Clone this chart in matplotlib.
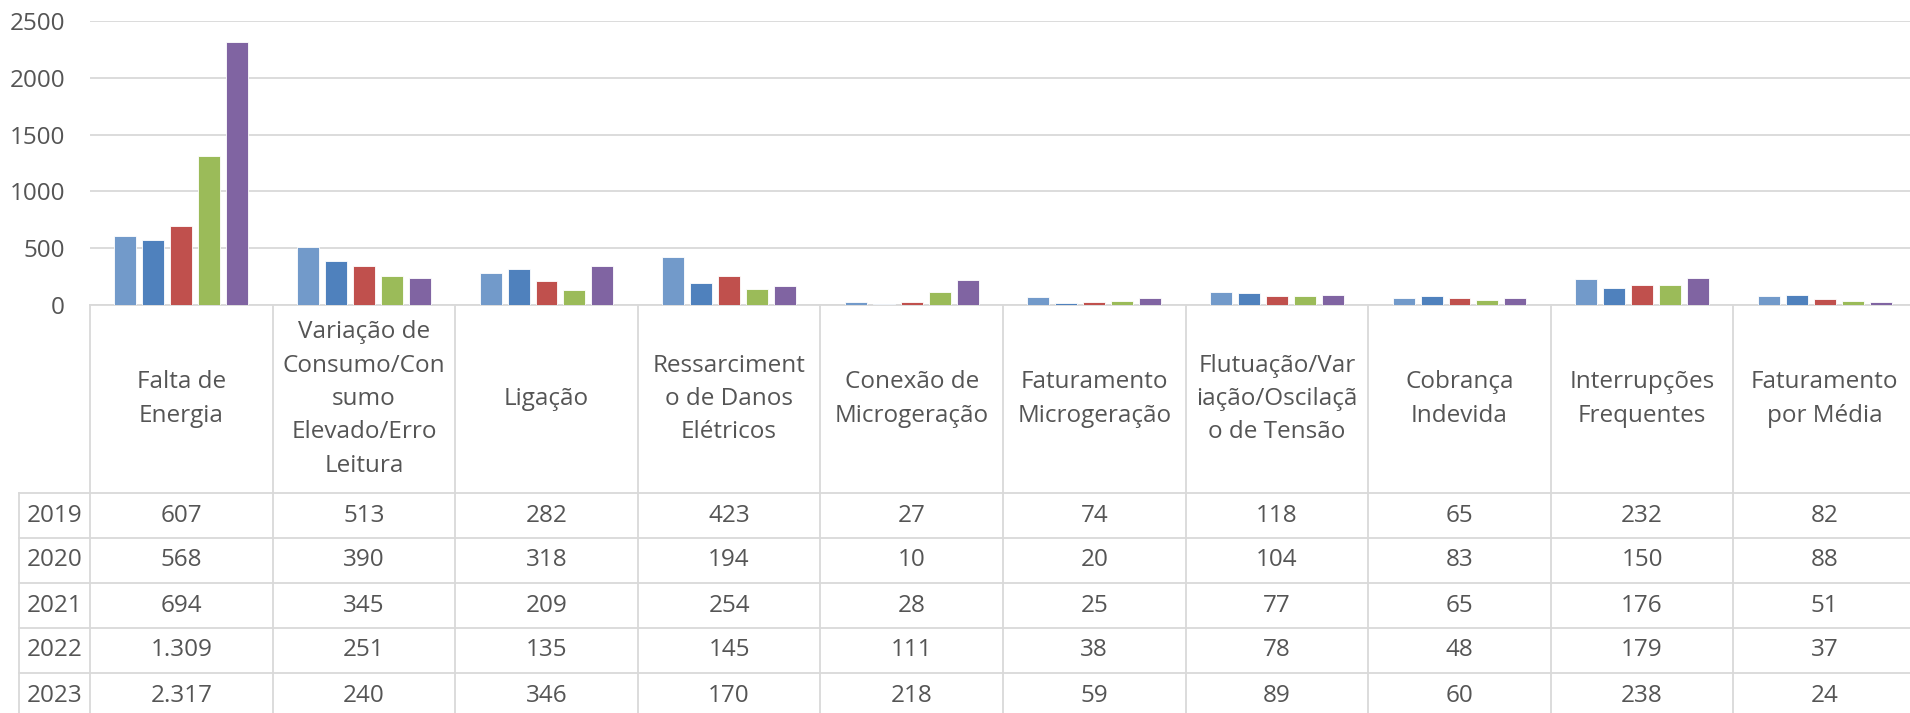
import matplotlib
matplotlib.use("Agg")
import matplotlib.pyplot as plt
import numpy as np

plt.rcParams['font.family'] = ['Open Sans', 'DejaVu Sans']

# data
categorias = [
    "Falta de\nEnergia",
    "Variação de\nConsumo/Con\nsumo\nElevado/Erro\nLeitura",
    "Ligação",
    "Ressarciment\no de Danos\nElétricos",
    "Conexão de\nMicrogeração",
    "Faturamento\nMicrogeração",
    "Flutuação/Var\niação/Oscilaçã\no de Tensão",
    "Cobrança\nIndevida",
    "Interrupções\nFrequentes",
    "Faturamento\npor Média",
]
anos = ["2019", "2020", "2021", "2022", "2023"]
v2019 = [607, 513, 282, 423, 27, 74, 118, 65, 232, 82]
v2020 = [568, 390, 318, 194, 10, 20, 104, 83, 150, 88]
v2021 = [694, 345, 209, 254, 28, 25, 77, 65, 176, 51]
v2022 = [1309, 251, 135, 145, 111, 38, 78, 48, 179, 37]
v2023 = [2317, 240, 346, 170, 218, 59, 89, 60, 238, 24]
series = [v2019, v2020, v2021, v2022, v2023]
cores = ["#729ACA", "#4F81BD", "#C0504D", "#9BBB59", "#8064A2"]
yticks = [0, 500, 1000, 1500, 2000, 2500]

W, H = 1910, 713
texto = "#555555"
linha = "#d9d9d9"
fs = 17.5

fig = plt.figure(figsize=(W / 100, H / 100), dpi=100)

# plot area in pixels: left 90, width ~1826 (cut at right), bottom at 305, height 284
left, right_px, base, top = 90, 1916, 305, 21
ax = fig.add_axes([left / W, (H - base) / H, (right_px - left) / W, (base - top) / H])
n = len(categorias)
x = np.arange(n) + 0.5
bw = 0.12
pitch = 0.153
for k, (vals, c) in enumerate(zip(series, cores)):
    ax.bar(x + (k - 2) * pitch, vals, width=bw, color=c, edgecolor="white",
           linewidth=0.6, zorder=3)

ax.set_xlim(0, n)
ax.set_ylim(0, 2500)
ax.set_yticks(yticks)
ax.set_yticklabels([str(t) for t in yticks], fontsize=fs, color=texto)
ax.tick_params(axis="y", length=0, pad=18)
ax.set_xticks([])
ax.grid(axis="y", color=linha, linewidth=1.3, zorder=0)
for s in ["top", "right", "left"]:
    ax.spines[s].set_visible(False)
ax.spines["bottom"].set_color(linha)
ax.spines["bottom"].set_linewidth(1.3)

# data table below, x in category units, y in pixels
tab = fig.add_axes([left / W, 0, (right_px - left) / W, 1])
tab.set_xlim(0, n)
tab.set_ylim(H, 0)
tab.axis("off")

header_bot = 493
row_h = 45
year_left = (19 - left) / ((right_px - left) / n)
lw = 1.3

for i in range(n + 1):
    tab.plot([i, i], [base, H + 10], color=linha, lw=lw, clip_on=False)
tab.plot([year_left, year_left], [header_bot, H + 10], color=linha, lw=lw, clip_on=False)
for r in range(len(anos)):
    yy = header_bot + r * row_h
    tab.plot([year_left, n], [yy, yy], color=linha, lw=lw, clip_on=False)

for i, cat in enumerate(categorias):
    tab.text(i + 0.5, (base + header_bot) / 2, cat, ha="center", va="center",
             fontsize=fs, color=texto, linespacing=1.52, clip_on=False)

for r, (ano, vals) in enumerate(zip(anos, series)):
    yc = header_bot + r * row_h + row_h / 2
    tab.text(year_left / 2, yc, ano, ha="center", va="center", fontsize=fs,
             color=texto, clip_on=False)
    for i, v in enumerate(vals):
        tab.text(i + 0.5, yc, f"{v:,}".replace(",", "."), ha="center",
                 va="center", fontsize=fs, color=texto, clip_on=False)

fig.savefig("out.png", dpi=100)
